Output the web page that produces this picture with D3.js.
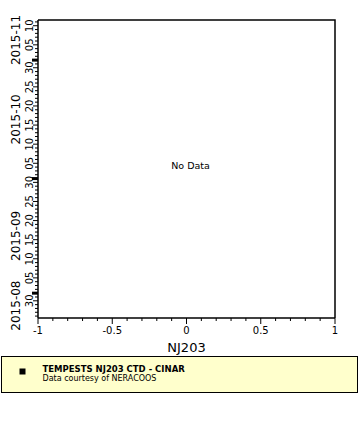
<!DOCTYPE html>
<html>
<head>
<meta charset="utf-8">
<script src="https://cdn.jsdelivr.net/npm/d3@7"></script>
<style>
  body { margin: 0; background: #fff; }
  svg { display: block; font-family: "DejaVu Sans", sans-serif; }
</style>
</head>
<body>
<div id="chart"></div>
<script>
// chart values
const stationName = "NJ203";
const timeRange = ["2015-08-25T12:00:00Z", "2015-11-11T12:00:00Z"];
const xRange = [-1, 1];
const xTickValues = [-1, -0.5, 0, 0.5, 1];
const xTickLabels = ["-1", "-0.5", "0", "0.5", "1"];
const seriesValues = []; // nothing to plot for this period
const legendTitle = "TEMPESTS NJ203 CTD - CINAR";
const legendCredit = "Data courtesy of NERACOOS";
const emptyMessage = "No Data";

const width = 360, height = 440;
const margin = { top: 20, right: 25, bottom: 122, left: 38 };
const plotW = width - margin.left - margin.right;
const plotH = height - margin.top - margin.bottom;

const svg = d3.select("#chart")
    .append("svg")
    .attr("width", width)
    .attr("height", height);

const g = svg.append("g")
    .attr("transform", `translate(${margin.left},${margin.top})`);

const xScale = d3.scaleLinear()
    .domain(xRange)
    .range([0, plotW]);

const yScale = d3.scaleUtc()
    .domain(timeRange.map(d => new Date(d)))
    .range([plotH, 0]);

// frame: top and right lines
g.append("path")
    .attr("d", `M0,0H${plotW}V${plotH}`)
    .attr("fill", "none")
    .attr("stroke", "#000")
    .attr("stroke-width", 1.5);

// x axis
const xAxis = g.append("g").attr("transform", `translate(0,${plotH})`);
xAxis.append("line")
    .attr("x1", 0).attr("x2", plotW)
    .attr("stroke", "#000").attr("stroke-width", 1.5);
xAxis.selectAll(".minor")
    .data(d3.range(-10, 11).map(d => d / 10))
    .join("line")
    .attr("x1", d => xScale(d)).attr("x2", d => xScale(d))
    .attr("y1", 0)
    .attr("y2", (d, i) => i % 5 === 0 ? 6 : 3)
    .attr("stroke", "#000");
xAxis.selectAll("text")
    .data(xTickValues)
    .join("text")
    .attr("x", d => xScale(d))
    .attr("y", 16)
    .attr("text-anchor", "middle")
    .attr("font-size", 10)
    .text((d, i) => xTickLabels[i]);
xAxis.append("text")
    .attr("x", plotW / 2)
    .attr("y", 34)
    .attr("text-anchor", "middle")
    .attr("font-size", 13)
    .text(stationName);

// y axis (time, increasing upward)
const yAxis = g.append("g");
yAxis.append("line")
    .attr("y1", 0).attr("y2", plotH)
    .attr("stroke", "#000").attr("stroke-width", 1.5);

const days = d3.utcDay.range(...yScale.domain().map((d, i) => i ? d : d3.utcDay.ceil(d)));
yAxis.selectAll(".day")
    .data(days.filter(d => d.getUTCDate() !== 1))
    .join("line")
    .attr("y1", d => yScale(d)).attr("y2", d => yScale(d))
    .attr("x1", 0)
    .attr("x2", d => d.getUTCDate() % 5 === 0 ? -5 : -3)
    .attr("stroke", "#000");

const monthStarts = d3.utcMonth.range(...yScale.domain());
yAxis.selectAll(".month")
    .data(monthStarts)
    .join("line")
    .attr("y1", d => yScale(d)).attr("y2", d => yScale(d))
    .attr("x1", 0).attr("x2", -6)
    .attr("stroke", "#000")
    .attr("stroke-width", 3);

yAxis.selectAll(".daylabel")
    .data(days.filter(d => d.getUTCDate() % 5 === 0 && d.getUTCDate() < 31))
    .join("text")
    .attr("transform", d => `translate(-5,${yScale(d)}) rotate(-90)`)
    .attr("text-anchor", "middle")
    .attr("font-size", 10)
    .text(d3.utcFormat("%d"));

// month labels centred on the visible part of each month
const [t0, t1] = yScale.domain();
const months = d3.utcMonth.range(d3.utcMonth.floor(t0), t1).map(m => {
    const a = m < t0 ? t0 : m;
    const b = d3.utcMonth.offset(m, 1) > t1 ? t1 : d3.utcMonth.offset(m, 1);
    return { m, mid: new Date((+a + +b) / 2) };
});
yAxis.selectAll(".monthlabel")
    .data(months)
    .join("text")
    .attr("transform", d => `translate(-18,${yScale(d.mid)}) rotate(-90)`)
    .attr("text-anchor", "middle")
    .attr("font-size", 12)
    .text(d => d3.utcFormat("%Y-%m")(d.m));

// data (empty) and message
g.selectAll(".point")
    .data(seriesValues)
    .join("circle")
    .attr("cx", d => xScale(d.value))
    .attr("cy", d => yScale(new Date(d.time)))
    .attr("r", 2);

if (seriesValues.length === 0) {
    g.append("text")
        .attr("x", plotW / 2 + 4)
        .attr("y", yScale.range()[0] / 2)
        .attr("text-anchor", "middle")
        .attr("font-size", 9.5)
        .text(emptyMessage);
}

// legend
const legend = svg.append("g").attr("transform", "translate(1.5,356.5)");
legend.append("rect")
    .attr("width", 356)
    .attr("height", 36)
    .attr("fill", "#ffffcc")
    .attr("stroke", "#000");
legend.append("rect")
    .attr("x", 18).attr("y", 12)
    .attr("width", 6).attr("height", 6)
    .attr("fill", "#000");
legend.append("text")
    .attr("x", 41).attr("y", 15)
    .attr("font-size", 8.5)
    .attr("font-weight", "bold")
    .text(legendTitle);
legend.append("text")
    .attr("x", 41).attr("y", 24.5)
    .attr("font-size", 8)
    .text(legendCredit);
</script>
</body>
</html>
